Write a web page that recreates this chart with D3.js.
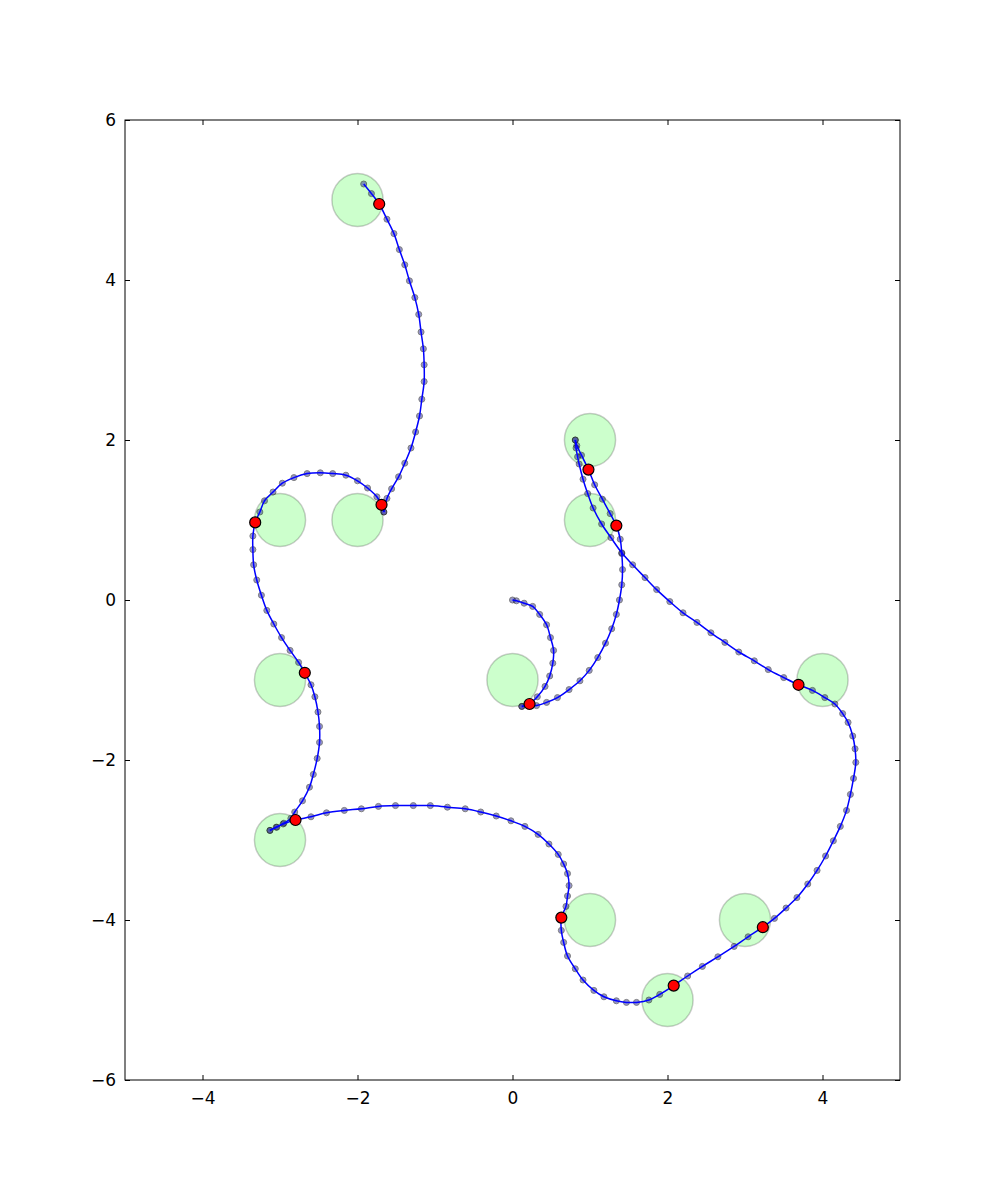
<!DOCTYPE html>
<html>
<head>
<meta charset="utf-8">
<script src="https://cdn.jsdelivr.net/npm/d3@7"></script>
<style>
  body { margin: 0; background: #fff; }
  text { font-family: "DejaVu Sans", sans-serif; }
</style>
</head>
<body>
<svg class="traj" width="1000" height="1200"></svg>
<script>
// target circles
var targets = [[-2, 5], [1, 2], [-3, 1], [-2, 1], [1, 1], [-3, -1], [0, -1], [4, -1],
               [-3, -3], [1, -4], [3, -4], [2, -5]];
var targetRadius = 0.33;

// trajectory, split at the cusps
var seg1 = [[0.0, 0.0], [0.05, -0.01], [0.15, -0.04], [0.26, -0.08], [0.35, -0.18], [0.44, -0.31],
  [0.49, -0.47], [0.53, -0.63], [0.52, -0.79], [0.48, -0.95], [0.42, -1.08], [0.32, -1.21],
  [0.23, -1.29], [0.12, -1.33]];
var seg2 = [[0.12, -1.33], [0.31, -1.32], [0.44, -1.28], [0.58, -1.22], [0.73, -1.12], [0.87, -1.01],
  [0.99, -0.88], [1.10, -0.72], [1.20, -0.54], [1.28, -0.36], [1.34, -0.18], [1.38, 0.0],
  [1.41, 0.19], [1.42, 0.38], [1.41, 0.58], [1.39, 0.76], [1.34, 0.93], [1.26, 1.08],
  [1.16, 1.26], [1.06, 1.44], [0.98, 1.63], [0.89, 1.81], [0.83, 1.93], [0.81, 2.0]];
var seg3 = [[0.81, 2.0], [0.82, 1.90], [0.84, 1.79], [0.86, 1.70], [0.91, 1.51], [0.97, 1.33],
  [1.04, 1.15], [1.15, 0.95], [1.27, 0.78], [1.41, 0.59], [1.55, 0.44], [1.71, 0.28],
  [1.86, 0.13], [2.03, -0.02], [2.20, -0.16], [2.38, -0.28], [2.56, -0.41], [2.74, -0.53],
  [2.92, -0.65], [3.12, -0.76], [3.30, -0.87], [3.50, -0.97], [3.69, -1.06], [3.87, -1.13],
  [4.03, -1.22], [4.16, -1.30], [4.26, -1.42], [4.33, -1.53], [4.39, -1.70], [4.42, -1.86],
  [4.43, -2.03], [4.40, -2.23], [4.36, -2.43], [4.31, -2.63], [4.23, -2.83], [4.14, -3.01],
  [4.04, -3.20], [3.93, -3.38], [3.81, -3.55], [3.67, -3.72], [3.53, -3.85], [3.38, -3.98],
  [3.23, -4.09], [3.04, -4.21], [2.86, -4.33], [2.65, -4.46], [2.45, -4.58], [2.26, -4.70],
  [2.08, -4.82], [1.90, -4.93], [1.76, -5.00], [1.60, -5.03], [1.47, -5.03], [1.34, -5.01],
  [1.18, -4.96], [1.05, -4.88], [0.91, -4.75], [0.81, -4.61], [0.71, -4.45], [0.66, -4.28],
  [0.63, -4.13], [0.63, -3.97], [0.69, -3.83], [0.71, -3.70], [0.73, -3.57], [0.71, -3.42],
  [0.66, -3.30], [0.59, -3.18], [0.47, -3.05], [0.33, -2.93], [0.16, -2.83], [-0.02, -2.76],
  [-0.21, -2.70], [-0.41, -2.65], [-0.61, -2.61], [-0.84, -2.59], [-1.06, -2.57], [-1.28, -2.57],
  [-1.51, -2.57], [-1.73, -2.58], [-1.95, -2.61], [-2.17, -2.63], [-2.40, -2.66], [-2.60, -2.71],
  [-2.80, -2.75], [-2.96, -2.80], [-3.05, -2.84], [-3.13, -2.88]];
var seg4 = [[-3.13, -2.88], [-3.04, -2.84], [-2.95, -2.79], [-2.86, -2.73], [-2.81, -2.65],
  [-2.71, -2.51], [-2.62, -2.34], [-2.57, -2.18], [-2.52, -1.98], [-2.49, -1.78], [-2.49, -1.58],
  [-2.51, -1.40], [-2.55, -1.21], [-2.60, -1.06], [-2.68, -0.91], [-2.76, -0.78], [-2.87, -0.63],
  [-2.98, -0.47], [-3.08, -0.30], [-3.17, -0.13], [-3.24, 0.06], [-3.30, 0.25], [-3.34, 0.44],
  [-3.35, 0.63], [-3.35, 0.80], [-3.32, 0.97], [-3.26, 1.10], [-3.20, 1.24], [-3.09, 1.35],
  [-2.97, 1.46], [-2.82, 1.53], [-2.65, 1.58], [-2.48, 1.59], [-2.32, 1.58], [-2.15, 1.56],
  [-2.00, 1.49], [-1.87, 1.40], [-1.75, 1.29], [-1.69, 1.19], [-1.66, 1.10]];
var seg5 = [[-1.66, 1.10], [-1.62, 1.27], [-1.56, 1.39], [-1.47, 1.54], [-1.39, 1.71], [-1.31, 1.90],
  [-1.25, 2.10], [-1.20, 2.30], [-1.17, 2.51], [-1.14, 2.73], [-1.14, 2.94], [-1.15, 3.14],
  [-1.18, 3.35], [-1.21, 3.57], [-1.26, 3.78], [-1.33, 3.99], [-1.39, 4.19], [-1.46, 4.38],
  [-1.53, 4.58], [-1.62, 4.76], [-1.72, 4.95], [-1.82, 5.08], [-1.92, 5.20]];

// positions reached at each target
var reached = [[0.22, -1.30], [1.34, 0.93], [0.98, 1.63], [3.69, -1.06], [3.23, -4.09],
  [2.08, -4.82], [0.63, -3.97], [-2.80, -2.75], [-2.68, -0.91], [-3.32, 0.97],
  [-1.69, 1.19], [-1.72, 4.95]];

var xTicks = [-4, -2, 0, 2, 4];
var yTicks = [-6, -4, -2, 0, 2, 4, 6];

var svg = d3.select(".traj"),
    margin = {top: 120, right: 100, bottom: 120, left: 125},
    width = +svg.attr("width") - margin.left - margin.right,
    height = +svg.attr("height") - margin.top - margin.bottom,
    g = svg.append("g").attr("transform", "translate(" + margin.left + "," + margin.top + ")");

var x = d3.scaleLinear().domain([-5, 5]).range([0, width]);
var y = d3.scaleLinear().domain([-6, 6]).range([height, 0]);

var fmt = function(d) { return d < 0 ? "\u2212" + Math.abs(d) : "" + d; };

// targets
g.selectAll(".target")
  .data(targets)
  .enter().append("ellipse")
    .attr("class", "target")
    .attr("cx", function(d) { return x(d[0]); })
    .attr("cy", function(d) { return y(d[1]); })
    .attr("rx", x(targetRadius) - x(0))
    .attr("ry", y(0) - y(targetRadius))
    .attr("fill", "#00ff00")
    .attr("fill-opacity", 0.2)
    .attr("stroke", "#000")
    .attr("stroke-opacity", 0.2)
    .attr("stroke-width", 1.5);

var segs = [seg1, seg2, seg3, seg4, seg5];
var allPts = [].concat(seg1, seg2, seg3, seg4, seg5);

g.selectAll(".pt")
  .data(allPts)
  .enter().append("circle")
    .attr("class", "pt")
    .attr("cx", function(d) { return x(d[0]); })
    .attr("cy", function(d) { return y(d[1]); })
    .attr("r", 3)
    .attr("fill", "#2a2a9a")
    .attr("stroke", "#000")
    .attr("stroke-width", 1)
    .attr("opacity", 0.5);

var line = d3.line()
    .x(function(d) { return x(d[0]); })
    .y(function(d) { return y(d[1]); })
    .curve(d3.curveCatmullRom.alpha(0.5));

g.selectAll(".seg")
  .data(segs)
  .enter().append("path")
    .attr("class", "seg")
    .attr("fill", "none")
    .attr("stroke", "#0000ff")
    .attr("stroke-width", 1.5)
    .attr("d", line);

g.selectAll(".reached")
  .data(reached)
  .enter().append("circle")
    .attr("class", "reached")
    .attr("cx", function(d) { return x(d[0]); })
    .attr("cy", function(d) { return y(d[1]); })
    .attr("r", 5.5)
    .attr("fill", "#ff0000")
    .attr("stroke", "#000")
    .attr("stroke-width", 1.2);

// axes, matplotlib classic: ticks inside on all four sides
function styleAxis(sel) {
  sel.select(".domain").remove();
  sel.selectAll(".tick line").attr("stroke", "#000");
  sel.selectAll(".tick text").attr("font-size", 17).attr("fill", "#000")
     .attr("font-family", "DejaVu Sans, sans-serif");
}

g.append("g")
  .attr("transform", "translate(0," + height + ")")
  .call(d3.axisBottom(x).tickValues(xTicks).tickSize(-5).tickPadding(12).tickFormat(fmt))
  .call(styleAxis);
g.append("g")
  .call(d3.axisTop(x).tickValues(xTicks).tickSize(-5).tickFormat(""))
  .call(styleAxis);
g.append("g")
  .call(d3.axisLeft(y).tickValues(yTicks).tickSize(-5).tickPadding(9).tickFormat(fmt))
  .call(styleAxis);
g.append("g")
  .attr("transform", "translate(" + width + ",0)")
  .call(d3.axisRight(y).tickValues(yTicks).tickSize(-5).tickFormat(""))
  .call(styleAxis);

g.append("rect")
  .attr("width", width)
  .attr("height", height)
  .attr("fill", "none")
  .attr("stroke", "#000")
  .attr("stroke-width", 1);
</script>
</body>
</html>
